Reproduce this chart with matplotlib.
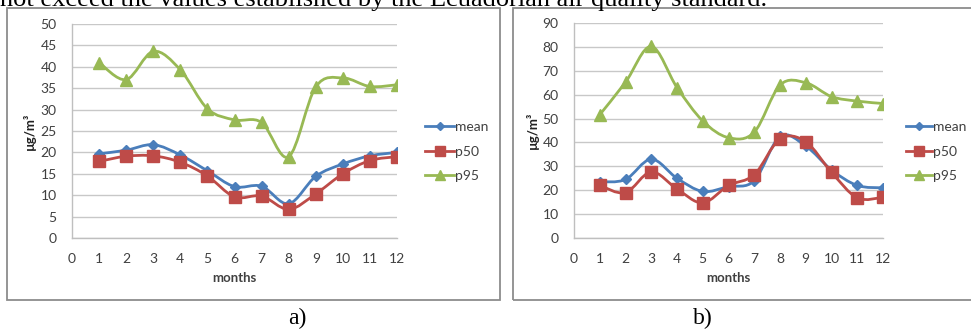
import matplotlib
matplotlib.use("Agg")
import matplotlib.pyplot as plt
import numpy as np
from matplotlib.path import Path
from matplotlib.patches import PathPatch, Rectangle
from matplotlib.lines import Line2D

plt.rcParams['font.family'] = ['Lato', 'DejaVu Sans']

months = list(range(1, 13))

# panel a)
mean_a = [19.7, 20.5, 21.8, 19.4, 15.7, 12.0, 12.1, 8.0, 14.4, 17.3, 19.2, 20.0]
p50_a = [17.9, 19.1, 19.2, 17.7, 14.5, 9.6, 9.8, 6.7, 10.3, 15.0, 18.1, 19.0]
p95_a = [41.0, 37.0, 43.6, 39.3, 30.2, 27.6, 27.0, 19.0, 35.3, 37.4, 35.4, 35.8]

# panel b)
mean_b = [23.5, 24.5, 33.0, 25.0, 19.5, 21.5, 24.0, 42.5, 38.5, 28.5, 22.0, 21.0]
p50_b = [22.0, 19.0, 27.7, 20.5, 14.7, 22.0, 26.5, 41.5, 40.3, 27.5, 16.8, 17.0]
p95_b = [51.6, 65.2, 80.2, 63.0, 49.0, 42.0, 44.3, 64.0, 65.0, 59.2, 57.3, 56.3]

series_names = ['mean', 'p50', 'p95']
colors = ['#4A7EBB', '#BE4B48', '#98B954']
markers = ['D', 's', '^']
msizes = [5, 8, 8]

caption = "not exceed the values established by the Ecuadorian air quality standard."


def smooth_path(x, y):
    # excel-like smoothed line: bezier segments through the points
    x = np.asarray(x, float)
    y = np.asarray(y, float)
    n = len(x)
    verts = [(x[0], y[0])]
    codes = [Path.MOVETO]
    for i in range(n - 1):
        i0 = max(i - 1, 0)
        i3 = min(i + 2, n - 1)
        c1 = (x[i] + (x[i + 1] - x[i0]) / 6, y[i] + (y[i + 1] - y[i0]) / 6)
        c2 = (x[i + 1] - (x[i3] - x[i]) / 6, y[i + 1] - (y[i3] - y[i]) / 6)
        verts += [c1, c2, (x[i + 1], y[i + 1])]
        codes += [Path.CURVE4] * 3
    return Path(verts, codes)


def draw_panel(ax, data, ymax, ystep):
    for vals, c, m, ms in zip(data, colors, markers, msizes):
        ax.add_patch(PathPatch(smooth_path(months, vals), fill=False,
                               edgecolor=c, lw=2.0, zorder=3))
        ax.plot(months, vals, linestyle='none', marker=m, ms=ms,
                color=c, zorder=4)
    ax.set_xlim(0, 12)
    ax.set_ylim(0, ymax)
    ax.set_xticks(range(0, 13))
    ax.set_yticks(np.arange(0, ymax + 1, ystep))
    ax.grid(axis='y', color='#C8C8C8', lw=1)
    ax.set_axisbelow(True)
    for s in ['top', 'right']:
        ax.spines[s].set_visible(False)
    for s in ['left', 'bottom']:
        ax.spines[s].set_color('#BFBFBF')
        ax.spines[s].set_linewidth(1)
    ax.tick_params(length=0, labelsize=10, labelcolor='#404040', pad=11)
    ax.tick_params(axis='y', pad=11)
    ax.set_xlabel('months', fontsize=9.5, fontweight='bold', color='#404040',
                  labelpad=5)
    ax.set_ylabel('µg/m³', fontsize=9.5, fontweight='bold', color='#202020',
                  labelpad=3)


fig = plt.figure(figsize=(9.71, 3.29), dpi=100)

# frames around panels
fig.patches.append(Rectangle((7 / 971, 1 - 300 / 329), 493 / 971, 292 / 329,
                             transform=fig.transFigure, fill=False,
                             edgecolor='#8C8C8C', lw=1.3))
fig.patches.append(Rectangle((513 / 971, 1 - 300 / 329), 470 / 971, 292 / 329,
                             transform=fig.transFigure, fill=False,
                             edgecolor='#8C8C8C', lw=1.3))

ax1 = fig.add_axes([72 / 971, 1 - 238 / 329, 325 / 971, 214 / 329])
ax2 = fig.add_axes([574 / 971, 1 - 238 / 329, 309 / 971, 215 / 329])

draw_panel(ax1, [mean_a, p50_a, p95_a], 50, 5)
draw_panel(ax2, [mean_b, p50_b, p95_b], 90, 10)

for ax, lx, hl in [(ax1, 425, 2.1), (ax2, 906, 1.9)]:
    handles = [Line2D([], [], color=c, marker=m, ms=ms * 0.9, lw=2.0)
               for c, m, ms in zip(colors, markers, msizes)]
    fig.legend(handles, series_names, loc='upper left',
               bbox_to_anchor=(lx / 971, 1 - 121 / 329), frameon=False,
               fontsize=10, handlelength=hl, handletextpad=0.05,
               labelspacing=0.9, borderaxespad=0, borderpad=0,
               labelcolor='#404040')

fig.text(0.0, 1 - 6 / 329, caption, family=['Liberation Serif', 'DejaVu Serif'],
         fontsize=19, va='baseline', ha='left')
fig.text(297 / 971, 1 - 318 / 329, 'a)', family=['Liberation Serif', 'DejaVu Serif'],
         fontsize=17, va='center', ha='center')
fig.text(703 / 971, 1 - 318 / 329, 'b)', family=['Liberation Serif', 'DejaVu Serif'],
         fontsize=17, va='center', ha='center')

fig.savefig('out.png', dpi=100)
